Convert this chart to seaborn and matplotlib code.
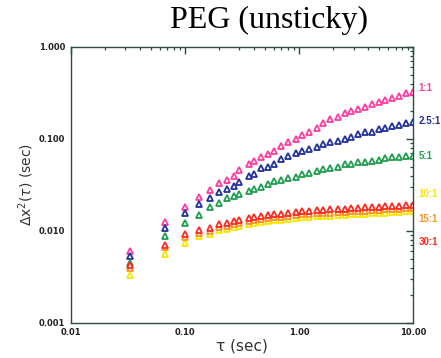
import matplotlib
matplotlib.use("Agg")
import matplotlib.pyplot as plt
import seaborn as sns
import pandas as pd

# Lag times (s)
tau = [0.033, 0.067, 0.100, 0.133, 0.167, 0.200, 0.233, 0.267, 0.300, 0.367,
       0.400, 0.467, 0.533, 0.600, 0.700, 0.800, 0.933, 1.07, 1.23, 1.43,
       1.63, 1.87, 2.17, 2.50, 2.83, 3.27, 3.77, 4.33, 5.00, 5.70,
       6.57, 7.50, 8.67, 10.0]

# Mean squared displacement for each mixing ratio
msd_1 = [0.0060, 0.0125, 0.018, 0.0235, 0.028, 0.033, 0.036, 0.040, 0.046, 0.054,
         0.057, 0.063, 0.068, 0.073, 0.083, 0.092, 0.100, 0.109, 0.118, 0.133,
         0.150, 0.163, 0.175, 0.193, 0.203, 0.214, 0.225, 0.242, 0.254, 0.267,
         0.281, 0.295, 0.318, 0.325]
msd_2_5 = [0.0054, 0.0108, 0.0157, 0.0196, 0.0226, 0.0263, 0.0284, 0.031, 0.034, 0.040,
           0.042, 0.048, 0.050, 0.054, 0.060, 0.065, 0.070, 0.073, 0.077, 0.081,
           0.087, 0.092, 0.096, 0.101, 0.106, 0.112, 0.118, 0.120, 0.127, 0.130,
           0.137, 0.143, 0.150, 0.153]
msd_5 = [0.0045, 0.0089, 0.0122, 0.0149, 0.018, 0.020, 0.0226, 0.024, 0.025, 0.027,
         0.0284, 0.030, 0.032, 0.035, 0.036, 0.0375, 0.039, 0.042, 0.043, 0.045,
         0.047, 0.048, 0.050, 0.053, 0.054, 0.056, 0.056, 0.057, 0.059, 0.062,
         0.063, 0.063, 0.065, 0.066]
msd_10 = [0.0033, 0.0056, 0.0074, 0.0088, 0.0093, 0.0102, 0.0105, 0.0110, 0.0113, 0.0119,
          0.0122, 0.0125, 0.0129, 0.0130, 0.0132, 0.0135, 0.0139, 0.0142, 0.0143, 0.0144,
          0.0146, 0.0147, 0.0149, 0.0150, 0.0151, 0.0153, 0.0154, 0.0155, 0.0157, 0.0158,
          0.0160, 0.0161, 0.0163, 0.0165]
msd_15 = [0.0040, 0.0067, 0.0086, 0.0095, 0.0100, 0.0110, 0.0113, 0.0119, 0.0122, 0.0129,
          0.0132, 0.0135, 0.0139, 0.0141, 0.0142, 0.0146, 0.0150, 0.0153, 0.0154, 0.0156,
          0.0157, 0.0158, 0.0160, 0.0162, 0.0163, 0.0165, 0.0166, 0.0168, 0.0169, 0.0171,
          0.0172, 0.0174, 0.0176, 0.0178]
msd_30 = [0.0043, 0.0071, 0.0092, 0.0102, 0.0108, 0.0119, 0.0122, 0.0129, 0.0132, 0.0139,
          0.0142, 0.0146, 0.0150, 0.0152, 0.0153, 0.0158, 0.0161, 0.0165, 0.0166, 0.0168,
          0.0170, 0.0171, 0.0173, 0.0175, 0.0176, 0.0178, 0.0180, 0.0181, 0.0183, 0.0185,
          0.0186, 0.0188, 0.0190, 0.0192]

ratios = ["1:1", "2.5:1", "5:1", "10:1", "15:1", "30:1"]
series = [msd_1, msd_2_5, msd_5, msd_10, msd_15, msd_30]
colors = ["#ff3d9e", "#22319c", "#1f9e4f", "#f5e800", "#ff9326", "#ff2a1f"]
label_y = [0.36, 0.155, 0.065, 0.0255, 0.0135, 0.0075]

y_ticks = [0.001, 0.01, 0.1, 1.0]
y_tick_labels = ["0.001", "0.010", "0.100", "1.000"]
x_ticks = [0.01, 0.1, 1.0, 10.0]
x_tick_labels = ["0.01", "0.10", "1.00", "10.00"]

sns.set_style("white")
fig = plt.figure(figsize=(4.41, 3.58), dpi=100)
ax = fig.add_axes([0.161, 0.098, 0.776, 0.771])

frames = []
for r, vals in zip(ratios, series):
    frames.append(pd.DataFrame({"tau": tau, "msd": vals, "ratio": r}))
df = pd.concat(frames, ignore_index=True)

for r, c in zip(ratios, colors):
    sub = df[df["ratio"] == r]
    sns.lineplot(data=sub, x="tau", y="msd", ax=ax, linestyle="", marker="^",
                 markersize=4.8, markeredgewidth=1.3, markerfacecolor="white",
                 markeredgecolor=c, color=c, legend=False)

ax.set_xscale("log")
ax.set_yscale("log")
ax.set_xlim(0.01, 10.0)
ax.set_ylim(0.001, 1.0)
ax.set_xticks(x_ticks, x_tick_labels)
ax.set_yticks(y_ticks, y_tick_labels)

axis_col = "#2b4a48"
for s in ax.spines.values():
    s.set_color(axis_col)
    s.set_linewidth(1.0)
ax.tick_params(which="both", direction="in", top=True, right=True,
               color=axis_col, labelcolor="#222222")
ax.tick_params(which="major", length=5, width=1.0, labelsize=6, pad=4)
ax.tick_params(which="minor", length=2.5, width=0.9)
for lab in ax.get_xticklabels() + ax.get_yticklabels():
    lab.set_fontweight("bold")
ax.minorticks_on()

ax.set_xlabel("τ (sec)", fontsize=11, color="#333333", labelpad=1)
ax.set_ylabel(r"$\Delta$x$^2$($\tau$) (sec)", fontsize=10, color="#333333",
              labelpad=2)

fig.text(0.61, 0.944, "PEG (unsticky)", ha="center", va="center",
         fontsize=23, family="Liberation Serif", color="black")

for r, c, yv in zip(ratios, colors, label_y):
    ax.text(1.015, yv, r, transform=ax.get_yaxis_transform(), color=c,
            fontsize=7, fontweight="bold", family="Liberation Sans",
            ha="left", va="center", clip_on=False)

fig.savefig("out.png", dpi=100)
